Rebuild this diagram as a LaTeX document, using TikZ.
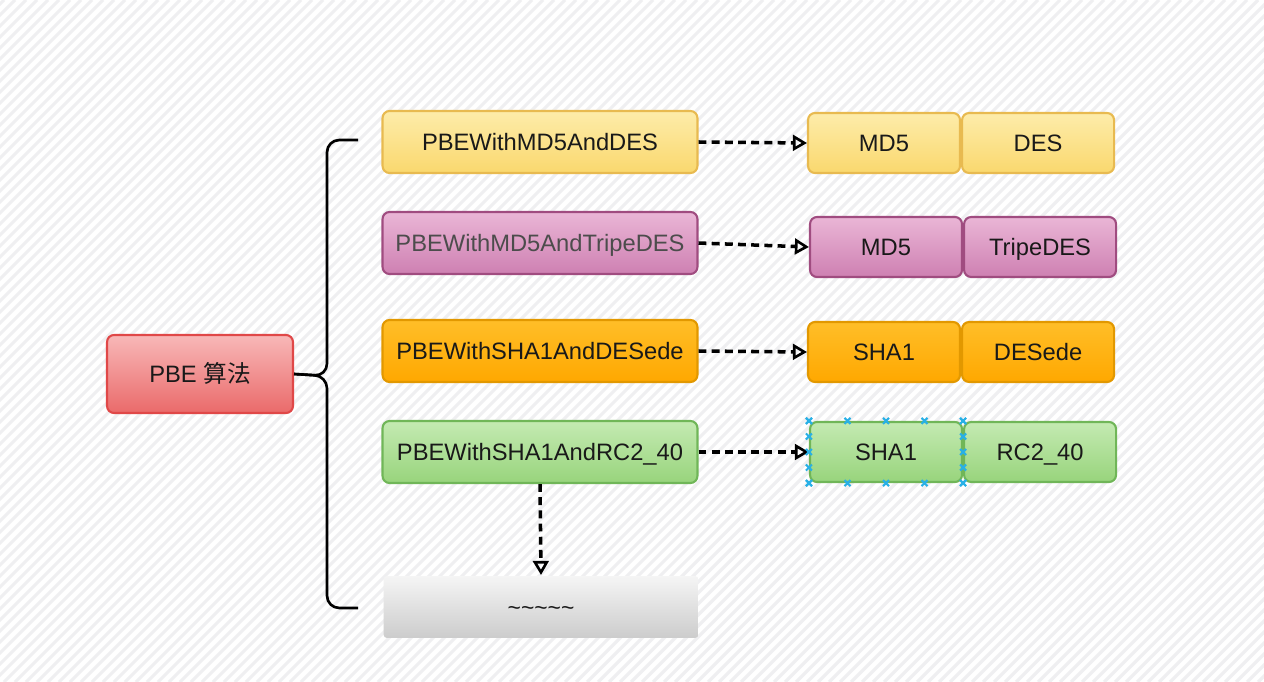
\documentclass[tikz,border=0pt]{standalone}
\usepackage{fontspec}
\setmainfont{Liberation Sans}
\newfontfamily\cjk{Noto Sans CJK SC}
\usepackage{tikz,xcolor}
\usetikzlibrary{arrows.meta,positioning,calc}

\definecolor{stripe}{RGB}{239,239,241}
\definecolor{ylwtop}{RGB}{253,236,170}
\definecolor{ylwbot}{RGB}{250,216,110}
\definecolor{ylwline}{RGB}{232,186,80}
\definecolor{pnktop}{RGB}{234,182,214}
\definecolor{pnkbot}{RGB}{206,128,178}
\definecolor{pnkline}{RGB}{160,76,128}
\definecolor{orgtop}{RGB}{255,190,40}
\definecolor{orgbot}{RGB}{255,168,0}
\definecolor{orgline}{RGB}{226,152,0}
\definecolor{grntop}{RGB}{196,234,178}
\definecolor{grnbot}{RGB}{152,212,124}
\definecolor{grnline}{RGB}{112,182,88}
\definecolor{redtop}{RGB}{248,184,184}
\definecolor{redbot}{RGB}{234,106,106}
\definecolor{redline}{RGB}{224,72,72}
\definecolor{handle}{RGB}{40,176,230}

\tikzset{
  box/.style={rounded corners=4pt, line width=1.2pt, inner sep=0pt,
    font=\fontsize{13.5}{16}\selectfont, text=black!90,
    text height=11pt, text depth=1.4pt},
  algo/.style={box, minimum width=6.3cm, minimum height=1.24cm},
  part/.style={box, minimum width=3.04cm, minimum height=1.2cm},
  ylw/.style={draw=ylwline, top color=ylwtop, bottom color=ylwbot},
  pnk/.style={draw=pnkline, top color=pnktop, bottom color=pnkbot},
  org/.style={draw=orgline, top color=orgtop, bottom color=orgbot},
  grn/.style={draw=grnline, top color=grntop, bottom color=grnbot},
  link/.style={line width=2pt, dash pattern=on 4.5pt off 3pt,
    -{Triangle[open,length=8pt,width=9pt,line width=1.5pt]}},
  brace/.style={line width=1.5pt, rounded corners=7pt}
}

\begin{document}
\begin{tikzpicture}[x=0.02cm,y=-0.02cm]
\useasboundingbox (0,0) rectangle (1264,682);

% striped background
\fill[white] (0,0) rectangle (1264,682);
\begin{scope}
\clip (0,0) rectangle (1264,682);
\foreach \i in {-700,-689,...,1270}
  \draw[stripe, line width=1.8pt] (\i,682) -- (\i+682,0);
\end{scope}

% root
\node[box, draw=redline, top color=redtop, bottom color=redbot,
  minimum width=3.72cm, minimum height=1.56cm] (pbe) at (200,374) {PBE {\cjk 算法}};

% algorithms
\node[algo, ylw] (md5des) at (540,142) {PBEWithMD5AndDES};
\node[algo, pnk, text=black!70] (md5tri) at (540,243) {PBEWithMD5AndTripeDES};
\node[algo, org] (shades) at (540,351) {PBEWithSHA1AndDESede};
\node[algo, grn] (sharc) at (540,452) {PBEWithSHA1AndRC2\_40};
\node[algo, draw=none, top color=white!96!black, bottom color=black!20,
  rounded corners=2pt, font=\fontsize{13}{15}\selectfont] (more) at (541,607)
  {\textasciitilde\textasciitilde\textasciitilde\textasciitilde\textasciitilde};

% parts
\node[part, ylw] (md5a) at (884,143) {MD5};
\node[part, ylw, right=0pt of md5a] (des) {DES};
\node[part, pnk] (md5b) at (886,247) {MD5};
\node[part, pnk, right=0pt of md5b] (tripe) {TripeDES};
\node[part, org] (sha1a) at (884,352) {SHA1};
\node[part, org, right=0pt of sha1a] (desede) {DESede};
\node[part, grn] (sha1b) at (886,452) {SHA1};
\node[part, grn, right=0pt of sha1b] (rc) {RC2\_40};

% brace
\coordinate (bt) at (358,140);
\coordinate (bb) at (358,608);
\draw[brace] (bt) -- (327,140) -- (327,376) -- (pbe.east);
\draw[brace] (bb) -- (327,608) -- (327,376) -- (pbe.east);

% links
\draw[link] (md5des.east) -- (md5a.west);
\draw[link] (md5tri.east) -- (md5b.west);
\draw[link] (shades.east) -- (sha1a.west);
\draw[link] (sharc.east) -- (sha1b.west);
\draw[link] (sharc.south) -- (more.north);

% selection handles
\foreach \t in {0,0.25,0.5,0.75,1}{
  \foreach \a/\b in {north west/north east, south west/south east,
                     north west/south west, north east/south east}{
    \coordinate (h) at ($(sha1b.\a)!\t!(sha1b.\b)$);
    \draw[handle, line width=1.2pt] ($(h)+(-3,-3)$) -- ($(h)+(3,3)$)
                                    ($(h)+(-3,3)$) -- ($(h)+(3,-3)$);
  }
}
\end{tikzpicture}
\end{document}
